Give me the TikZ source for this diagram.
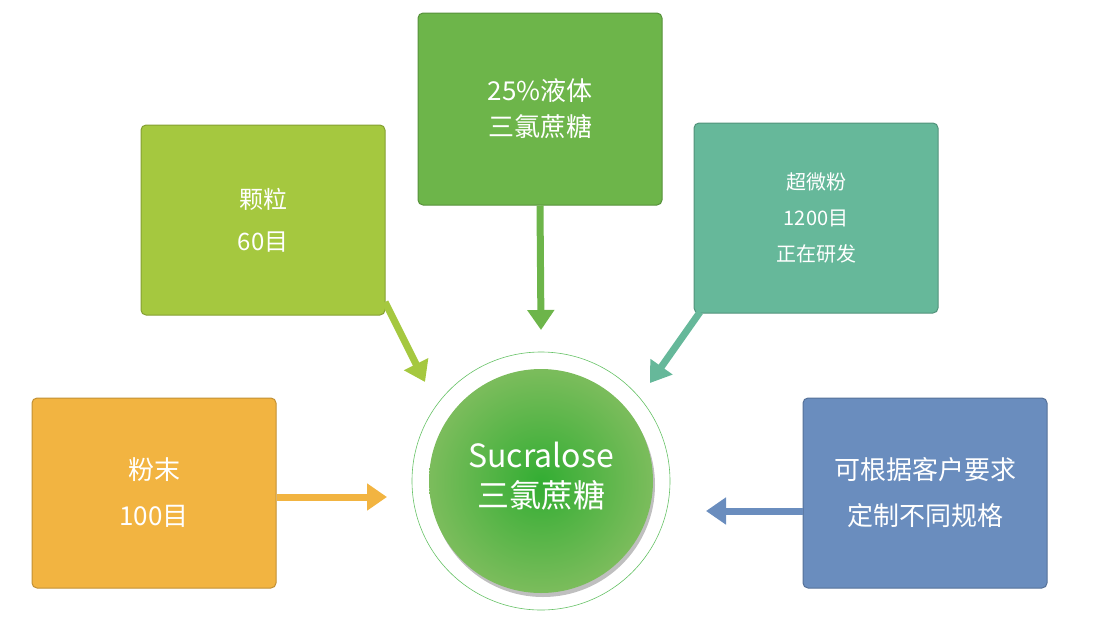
\documentclass[tikz,border=0pt]{standalone}
\usepackage{fontspec}
\setmainfont{Noto Sans CJK SC}
\usetikzlibrary{arrows.meta}
\definecolor{cA}{HTML}{A5C83F}
\definecolor{cB}{HTML}{6DB54A}
\definecolor{cC}{HTML}{66B89A}
\definecolor{cD}{HTML}{F2B441}
\definecolor{cE}{HTML}{6A8DBE}
\tikzset{
 box/.style={draw=#1!80!black, fill=#1, rounded corners=5pt, minimum width=244pt, minimum height=190pt, text=white, align=center, line width=1pt},
 arr/.style={draw=#1, line width=7pt, -{Triangle[width=26pt,length=20pt]}}
}
\begin{document}
\begin{tikzpicture}[x=1pt,y=-1pt]
\useasboundingbox (0,0) rectangle (1098,641);
\node[box=cA, font=\fontsize{24}{42}\selectfont] (a) at (263,220) {颗粒\\60目};
\node[box=cB, font=\fontsize{26}{36}\selectfont, minimum height=192pt] (b) at (540,109) {25\%液体\\三氯蔗糖};
\node[box=cC, font=\fontsize{20}{36}\selectfont] (c) at (816,218) {超微粉\\1200目\\正在研发};
\node[box=cD, font=\fontsize{26}{46}\selectfont] (d) at (154,493) {粉末\\100目};
\node[box=cE, font=\fontsize{26}{46}\selectfont] (e) at (925,493) {可根据客户要求\\定制不同规格};
\fill[black!25] (543,485) circle (112);
\node[circle, draw=green!60!black!60, line width=0.6pt, minimum size=258pt] (ring) at (541,481) {};
\shade[inner color=green!60!black!80, outer color=cB!90!white] (541,481) circle (112);
\node[text=white, align=center, font=\fontsize{32}{40}\selectfont] (s) at (541,476) {Sucralose\\三氯蔗糖};
\coordinate (ta) at (425,382);
\coordinate (tb) at (541,330);
\coordinate (tc) at (650,383);
\coordinate (td) at (387,497);
\coordinate (te) at (706,511);
\draw[arr=cA] (385,302) -- (ta);
\draw[arr=cB] (b.south) -- (tb);
\draw[arr=cC] (700,312) -- (tc);
\draw[arr=cD] (d.east |- td) -- (td);
\draw[arr=cE] (e.west |- te) -- (te);
\end{tikzpicture}
\end{document}
